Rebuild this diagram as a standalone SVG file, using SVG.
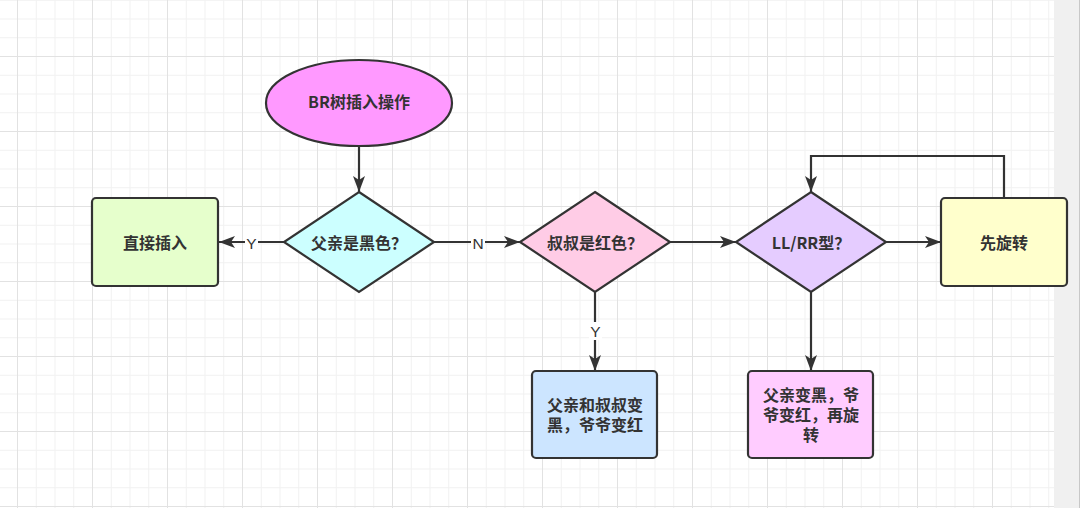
<svg xmlns="http://www.w3.org/2000/svg" width="1080" height="508" viewBox="0 0 1080 508">
<style>
.shape{stroke:#333333;stroke-width:2.2}
.t{font-family:"Noto Sans CJK SC","Noto Sans",sans-serif;font-size:16px;font-weight:bold;fill:#333333;text-anchor:middle}
.lbl{font-family:"Liberation Sans","Noto Sans",sans-serif;font-size:15.5px;fill:#333333;text-anchor:middle}
.edge{fill:none;stroke:#333333;stroke-width:2.2}
</style>
<defs>
<pattern id="grid" patternUnits="userSpaceOnUse" x="17" y="56" width="75" height="75">
<path d="M19.25 0V75M38 0V75M56.75 0V75M0 19.25H75M0 38H75M0 56.75H75" stroke="#f1f1f1" stroke-width="1"/>
<path d="M0.5 0V75M0 0.5H75" stroke="#e2e2e2" stroke-width="1"/>
</pattern>
<marker id="arr" markerUnits="userSpaceOnUse" markerWidth="18" markerHeight="14" refX="16" refY="7" orient="auto">
<path d="M0,1 L16,7 L0,13 L4,7 Z" fill="#333333"/>
</marker>
</defs>
<rect x="0" y="0" width="1080" height="508" fill="#ffffff"/>
<rect x="0" y="0" width="1054" height="508" fill="url(#grid)"/>
<rect x="1054" y="0" width="26" height="508" fill="#f0f0f0"/>
<line x1="1079.5" y1="0" x2="1079.5" y2="508" stroke="#c8c8c8" stroke-width="1"/>

<g id="connectors">
<path class="edge" d="M359,146 V192" marker-end="url(#arr)"/>
<path class="edge" d="M284,242 H219" marker-end="url(#arr)"/>
<path class="edge" d="M434,242 H520" marker-end="url(#arr)"/>
<path class="edge" d="M670,242 H736" marker-end="url(#arr)"/>
<path class="edge" d="M886,242 H941" marker-end="url(#arr)"/>
<path class="edge" d="M595,292 V371" marker-end="url(#arr)"/>
<path class="edge" d="M811,292 V371" marker-end="url(#arr)"/>
<path class="edge" d="M1004,198 V156 H811 V192" marker-end="url(#arr)"/>
<rect x="245" y="234" width="13" height="17" fill="#ffffff"/>
<text class="lbl" x="251.5" y="248.5">Y</text>
<rect x="471" y="234" width="14" height="17" fill="#ffffff"/>
<text class="lbl" x="478" y="248.5">N</text>
<rect x="589" y="322" width="13" height="18" fill="#ffffff"/>
<text class="lbl" x="595.5" y="336.5">Y</text>
</g>

<g id="start">
<ellipse class="shape" cx="359" cy="103" rx="93" ry="43" fill="#ff99ff"/>
<text class="t" x="359" y="108">BR树插入操作</text>
</g>
<g id="q-father-black">
<polygon class="shape" points="359,192 434,242 359,292 284,242" fill="#ccffff"/>
<text class="t" x="359" y="249">父亲是黑色？</text>
</g>
<g id="direct-insert">
<rect class="shape" x="92" y="198" width="126" height="88" rx="4" fill="#e6ffcc"/>
<text class="t" x="155" y="249">直接插入</text>
</g>
<g id="q-uncle-red">
<polygon class="shape" points="595,192 670,242 595,292 520,242" fill="#ffcce6"/>
<text class="t" x="595" y="249">叔叔是红色？</text>
</g>
<g id="q-llrr">
<polygon class="shape" points="811,192 886,242 811,292 736,242" fill="#e5ccff"/>
<text class="t" x="811" y="249">LL/RR型？</text>
</g>
<g id="rotate-first">
<rect class="shape" x="941" y="198" width="126" height="88" rx="4" fill="#ffffcc"/>
<text class="t" x="1004" y="249">先旋转</text>
</g>
<g id="recolor">
<rect class="shape" x="532" y="371" width="125" height="87" rx="4" fill="#cce5ff"/>
<text class="t" x="595" y="411">父亲和叔叔变<tspan x="595" dy="19.5">黑，爷爷变红</tspan></text>
</g>
<g id="recolor-rotate">
<rect class="shape" x="748" y="371" width="125" height="87" rx="4" fill="#ffccff"/>
<text class="t" x="811" y="401">父亲变黑，爷<tspan x="811" dy="20">爷变红，再旋</tspan><tspan x="811" dy="20">转</tspan></text>
</g>
</svg>
